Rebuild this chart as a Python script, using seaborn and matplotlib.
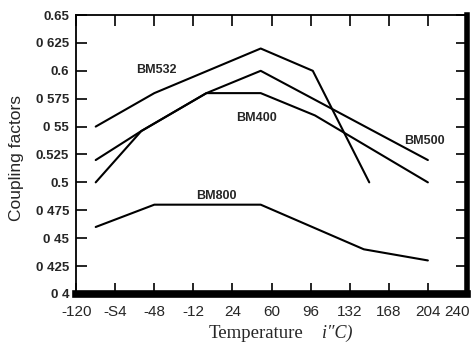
import matplotlib
matplotlib.use("Agg")
import matplotlib.pyplot as plt
import matplotlib.transforms as mtransforms
import seaborn as sns
import pandas as pd

# Data
bm532_temp = [-102, -48, 50, 98, 150]
bm532_cf = [0.55, 0.58, 0.62, 0.60, 0.50]

bm500_temp = [-102, -60, 0, 50, 204]
bm500_cf = [0.52, 0.546, 0.58, 0.60, 0.52]

bm400_temp = [-102, -60, 0, 50, 100, 204]
bm400_cf = [0.50, 0.546, 0.58, 0.58, 0.56, 0.50]

bm800_temp = [-102, -48, 50, 145, 204]
bm800_cf = [0.46, 0.48, 0.48, 0.44, 0.43]

x_ticks = [-120, -84, -48, -12, 24, 60, 96, 132, 168, 204, 240]
x_labels = ["-120", "-S4", "-48", "-12", "24", "60", "96", "132", "168", "204", "240"]
y_ticks = [0.4, 0.425, 0.45, 0.475, 0.5, 0.525, 0.55, 0.575, 0.6, 0.625, 0.65]
y_labels = ["0 4", "0 425", "0 45", "0 475", "0.5", "0.525", "0 55", "0 575", "0.6", "0 625", "0.65"]

series = {
    "BM532": (bm532_temp, bm532_cf),
    "BM500": (bm500_temp, bm500_cf),
    "BM400": (bm400_temp, bm400_cf),
    "BM800": (bm800_temp, bm800_cf),
}

frames = []
for name, (t, c) in series.items():
    frames.append(pd.DataFrame({"Temperature": t, "Coupling": c, "Series": name}))
df = pd.concat(frames, ignore_index=True)

sns.set_style("ticks")
plt.rcParams['font.family'] = ['Liberation Sans', 'DejaVu Sans']

fig = plt.figure(figsize=(4.76, 3.58), dpi=100)
ax = fig.add_axes([0.160, 0.179, 0.821, 0.779])

for name in series:
    sub = df[df["Series"] == name]
    sns.lineplot(data=sub, x="Temperature", y="Coupling", ax=ax, color="black",
                 linewidth=1.5, sort=False, estimator=None, legend=False)
ax.set_xlabel("")
ax.set_ylabel("")

# Curve labels
label_style = dict(fontsize=9, fontweight="bold", ha="center", va="center",
                   family=["Liberation Sans Narrow", "Liberation Sans", "DejaVu Sans"])
ax.text(-46, 0.601, "BM532", **label_style)
ax.text(46, 0.558, "BM400", **label_style)
ax.text(201, 0.537, "BM500", **label_style)
ax.text(9, 0.488, "BM800", **label_style)

ax.set_xlim(-120, 240)
ax.set_ylim(0.4, 0.65)
ax.set_xticks(x_ticks)
ax.set_xticklabels(x_labels, fontsize=11)
ax.set_yticks(y_ticks)
ax.set_yticklabels(y_labels, fontsize=9.5, fontweight="bold",
                   family=["Liberation Sans Narrow", "Liberation Sans", "DejaVu Sans"])

ax.tick_params(axis="both", direction="in", top=True, right=True,
               length=8, width=1.2, color="black")
ax.tick_params(axis="x", pad=8)
ax.tick_params(axis="y", pad=5)

# last x label sits tight against the right edge
last = ax.get_xticklabels()[-1]
last.set_transform(last.get_transform() +
                   mtransforms.ScaledTranslation(-7 / 72, 0, fig.dpi_scale_trans))

for side in ["left", "top"]:
    ax.spines[side].set_linewidth(1.3)
ax.spines["bottom"].set_linewidth(5.5)
ax.spines["right"].set_linewidth(4)
for s in ax.spines.values():
    s.set_color("black")

# axis titles
fig.text(256 / 476, 1 - 333 / 358, "Temperature", fontsize=13.5, ha="center", va="center",
         family=["Liberation Serif", "DejaVu Serif"])
fig.text(322 / 476, 1 - 333 / 358, "i\u2033C)", fontsize=13, ha="left", va="center",
         style="italic", family=["Liberation Serif", "DejaVu Serif"])
fig.text(17 / 476, 1 - 158 / 358, "Coupling factors", fontsize=12.5, rotation=90,
         ha="center", va="center")

fig.savefig("out.png", dpi=100)
